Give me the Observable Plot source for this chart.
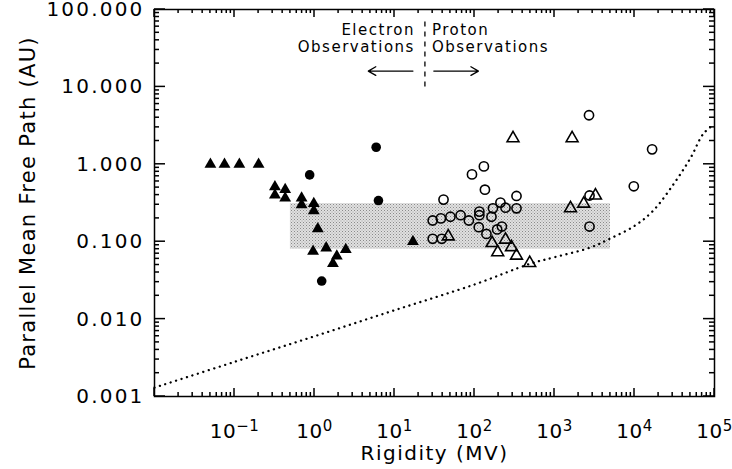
<!DOCTYPE html>
<html><head><meta charset="utf-8">
<script src="https://cdn.jsdelivr.net/npm/d3@7"></script>
<script src="https://cdn.jsdelivr.net/npm/@observablehq/plot@0.6"></script>
<style>
body{margin:0;background:#fff;}
</style></head><body><div id="chart"></div>
<script>
// ---- Electron observations (filled symbols) ----
const electronTriX = [0.05, 0.075, 0.115, 0.2, 0.32, 0.32, 0.43, 0.43, 0.69, 0.69, 0.98, 0.98, 1.1, 0.96, 1.4, 1.9, 1.7, 2.46, 17];
const electronTriY = [1.0, 1.0, 1.0, 1.0, 0.51, 0.40, 0.47, 0.365, 0.365, 0.30, 0.31, 0.25, 0.147, 0.075, 0.083, 0.065, 0.052, 0.079, 0.10];
const electronDotX = [5.9, 0.87, 6.3, 1.23];
const electronDotY = [1.66, 0.73, 0.34, 0.031];
// ---- Proton observations (open symbols) ----
const protonTriX = [166, 195, 244, 290, 335, 490, 1585, 2320, 3250, 303, 1660, 47];
const protonTriY = [0.096, 0.073, 0.106, 0.085, 0.066, 0.053, 0.27, 0.31, 0.395, 2.17, 2.17, 0.117];
const protonCircX = [2700, 16600, 9800, 131, 93, 135, 41, 335, 335, 211, 244, 170, 115, 115, 67, 50, 38, 30, 85, 113, 163, 141, 192, 220, 30, 39, 2740, 2740];
const protonCircY = [4.3, 1.56, 0.52, 0.94, 0.74, 0.47, 0.35, 0.39, 0.27, 0.32, 0.275, 0.27, 0.245, 0.22, 0.22, 0.21, 0.20, 0.188, 0.188, 0.154, 0.21, 0.126, 0.144, 0.157, 0.109, 0.109, 0.395, 0.157];
// ---- Shaded consensus band ----
const bandX = [0.5, 5000];
const bandY = [0.08, 0.31];
// ---- Dotted theoretical curve ----
const curveX = [0.01, 0.1, 1, 10, 100, 500, 1000, 2800, 5000, 10000, 17000, 31000, 50000, 73000, 100000];
const curveY = [0.0013, 0.0028, 0.006, 0.013, 0.028, 0.052, 0.063, 0.084, 0.11, 0.16, 0.25, 0.56, 1.2, 2.5, 3.3];
// ---- Axes ----
const xTickValues = [0.1, 1, 10, 100, 1000, 10000, 100000];
const xTickExponents = ["\u22121", "0", "1", "2", "3", "4", "5"];
const yTickValues = [0.001, 0.01, 0.1, 1, 10, 100];
const yTickLabels = ["0.001", "0.010", "0.100", "1.000", "10.000", "100.000"];
const xTitle = "Rigidity (MV)";
const yTitle = "Parallel Mean Free Path (AU)";
const electronLabel = "Electron\nObservations";
const protonLabel = "Proton\nObservations";
const dividerX = 24;

const zip = (xs, ys) => xs.map((x, i) => ({x, y: ys[i]}));
const xMajor = d3.range(-2, 6).map(e => 10 ** e);
const yMajor = d3.range(-3, 3).map(e => 10 ** e);
const minor = (lo, hi) => { const a = []; for (let e = lo; e < hi; e++) for (let m = 2; m < 10; m++) a.push(m * 10 ** e); return a; };
const xMinor = minor(-2, 5);
const yMinor = minor(-3, 2);
const yLabelMap = new Map(yTickValues.map((v, i) => [v, yTickLabels[i]]));
const xExpMap = new Map(xTickValues.map((v, i) => [v, xTickExponents[i]]));

const W = 732, H = 469, ML = 154, MR = 18, MT = 9, MB = 73;
const font = "DejaVu Sans";

// inward ticks on all four sides, positioned with the plot's own scales
function inwardTicks(index, scales, values, dimensions) {
  const {width, height, marginLeft, marginRight, marginTop, marginBottom} = dimensions;
  const L = marginLeft, R = width - marginRight, T = marginTop, B = height - marginBottom;
  const g = d3.create("svg:g").attr("aria-label", "ticks").attr("stroke", "black").attr("stroke-width", 1.5);
  for (const [vals, len] of [[xMajor, 8], [xMinor, 4]]) for (const v of vals) {
    const p = scales.x(v);
    g.append("line").attr("x1", p).attr("x2", p).attr("y1", B).attr("y2", B - len);
    g.append("line").attr("x1", p).attr("x2", p).attr("y1", T).attr("y2", T + len);
  }
  for (const [vals, len] of [[yMajor, 11], [yMinor, 5]]) for (const v of vals) {
    const p = scales.y(v);
    g.append("line").attr("y1", p).attr("y2", p).attr("x1", L).attr("x2", L + len);
    g.append("line").attr("y1", p).attr("y2", p).attr("x1", R).attr("x2", R - len);
  }
  return g.node();
}

const chart = Plot.plot({
  width: W, height: H,
  marginLeft: ML, marginRight: MR, marginTop: MT, marginBottom: MB,
  x: {type: "log", domain: [0.01, 1e5], axis: null},
  y: {type: "log", domain: [0.001, 100], axis: null},
  style: {fontFamily: font, background: "white", color: "black"},
  marks: [
    Plot.rect([{}], {x1: bandX[0], x2: bandX[1], y1: bandY[0], y2: bandY[1], fill: "url(#stipple)"}),
    Plot.line(zip(curveX, curveY), {x: "x", y: "y", curve: "catmull-rom", stroke: "black", strokeWidth: 2.3, strokeLinecap: "round", strokeDasharray: "0.1,5.6"}),
    inwardTicks,
    Plot.axisY(yTickValues, {anchor: "left", tickSize: 0, tickPadding: 10, tickFormat: d => yLabelMap.get(d), fontSize: 20, label: null}),
    Plot.axisX(xTickValues, {anchor: "bottom", tickSize: 0, tickPadding: 27, tickFormat: d => "10|" + xExpMap.get(d), fontSize: 20, label: null}),
    Plot.text([xTitle], {text: d => d, frameAnchor: "bottom", dy: 63, fontSize: 20}),
    Plot.text([yTitle], {text: d => d, frameAnchor: "left", textAnchor: "middle", rotate: -90, dx: -126, fontSize: 21}),
    Plot.frame({stroke: "black", strokeWidth: 1.5}),
    // annotation
    Plot.ruleX([dividerX], {y1: 10, y2: 80, stroke: "black", strokeWidth: 1.3, strokeDasharray: "5,5"}),
    Plot.text([electronLabel], {text: d => d, x: dividerX, frameAnchor: "top", lineAnchor: "top", dy: 13, textAnchor: "end", dx: -10, fontSize: 15, lineHeight: 1.16}),
    Plot.text([protonLabel], {text: d => d, x: dividerX, frameAnchor: "top", lineAnchor: "top", dy: 13, textAnchor: "start", dx: 7, fontSize: 15, lineHeight: 1.16}),
    Plot.arrow([{x1: 17, x2: 4.7, y: 16}, {x1: 31, x2: 112, y: 16}], {x1: "x1", x2: "x2", y1: "y", y2: "y", stroke: "black", strokeWidth: 1.3, headLength: 10}),
    // data
    Plot.dot(zip(protonCircX, protonCircY), {x: "x", y: "y", r: 4.6, stroke: "black", strokeWidth: 1.6, fill: "none"}),
    Plot.dot(zip(protonTriX, protonTriY), {x: "x", y: "y", symbol: "triangle", r: 4.4, stroke: "black", strokeWidth: 1.6, fill: "none"}),
    Plot.dot(zip(electronTriX, electronTriY), {x: "x", y: "y", symbol: "triangle", r: 4.4, fill: "black", stroke: "none"}),
    Plot.dot(zip(electronDotX, electronDotY), {x: "x", y: "y", r: 4.8, fill: "black", stroke: "none"})
  ]
});

const svg = d3.select(chart);
// stipple pattern for the shaded band
const defs = svg.insert("defs", ":first-child");
const pat = defs.append("pattern").attr("id", "stipple").attr("width", 3).attr("height", 3).attr("patternUnits", "userSpaceOnUse");
pat.append("rect").attr("width", 3).attr("height", 3).attr("fill", "#e0e0e0");
pat.append("rect").attr("x", 0).attr("y", 0).attr("width", 1).attr("height", 1).attr("fill", "#8a8a8a");
pat.append("rect").attr("x", 1.5).attr("y", 1.5).attr("width", 1).attr("height", 1).attr("fill", "#a0a0a0");

// letter spacing similar to the original vector font
svg.selectAll("text").attr("letter-spacing", "1.3px");
svg.selectAll('g[aria-label="y-axis tick label"] text').attr("letter-spacing", "2.2px");
svg.selectAll('g[aria-label="x-axis tick label"] text').attr("letter-spacing", "0.5px");
svg.selectAll('g[aria-label="text"] text').filter(function () { return /Observations/.test(this.textContent); }).attr("letter-spacing", "1.5px");
svg.selectAll('g[aria-label="text"] text').filter(function () { return /Rigidity/.test(this.textContent); }).attr("letter-spacing", "1.5px");

// superscript exponents on x tick labels
svg.selectAll('g[aria-label="x-axis tick label"] text').each(function () {
  const t = d3.select(this);
  const parts = t.text().split("|");
  t.text(parts[0]);
  t.append("tspan").attr("dy", "-0.45em").attr("font-size", 15).text(parts[1]);
});

document.getElementById("chart").appendChild(chart);
</script></body></html>
